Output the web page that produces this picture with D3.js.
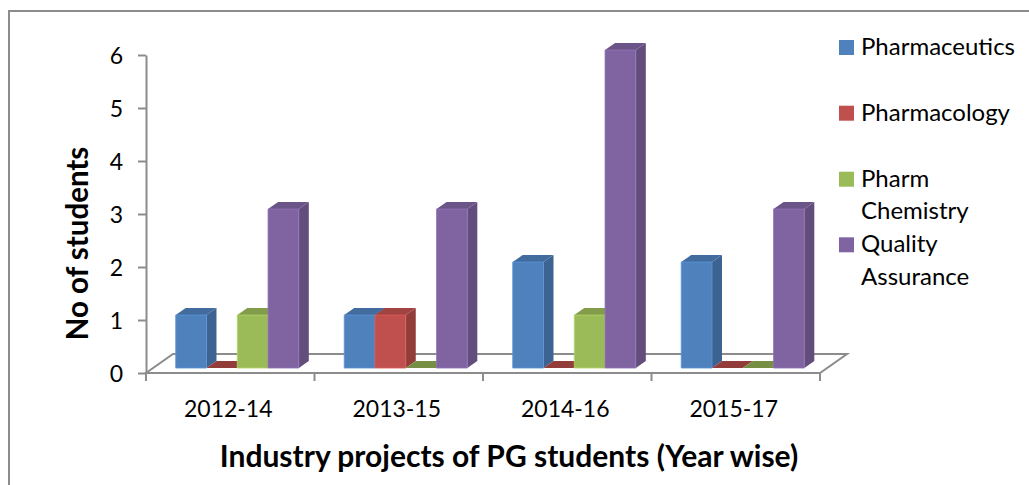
<!DOCTYPE html>
<html>
<head>
<script src="https://cdn.jsdelivr.net/npm/d3@7"></script>
<style>
  body { margin: 0; background: #fff; }
  svg { display: block; font-family: Lato, "Open Sans", sans-serif; }
</style>
</head>
<body>
<svg id="chart" width="1029" height="485"></svg>
<script>
// chart data
var categories = ["2012-14", "2013-15", "2014-16", "2015-17"];
var seriesNames = ["Pharmaceutics", "Pharmacology", "Pharm Chemistry", "Quality Assurance"];
var pharmaceutics = [1, 1, 2, 2];
var pharmacology = [0, 1, 0, 0];
var pharmChemistry = [1, 0, 1, 0];
var qualityAssurance = [3, 3, 6, 3];
var yTicks = [0, 1, 2, 3, 4, 5, 6];
var colors = ["#4f81bd", "#c0504d", "#9bbb59", "#8064a2"];

var values = [pharmaceutics, pharmacology, pharmChemistry, qualityAssurance];

var svg = d3.select("#chart");
var grey = "#8c8c8c";

// outer border (only top/left visible in the frame)
svg.append("rect")
    .attr("x", 9).attr("y", 11)
    .attr("width", 1100).attr("height", 600)
    .attr("fill", "none")
    .attr("stroke", grey)
    .attr("stroke-width", 2);

var plotLeft = 146, plotRight = 820, plotBottom = 373, plotTop = 55;
var depth = [27, -19];   // floor depth offset
var barFront = 0.26, barBack = 0.63;

var x = d3.scaleBand().domain(categories).range([plotLeft, plotRight]);
var xs = d3.scaleBand().domain(seriesNames)
    .range([22.7, x.bandwidth() - 22.7]);
var y = d3.scaleLinear().domain([0, 6]).range([plotBottom, plotTop]);

// floor
var floor = [[plotLeft, plotBottom], [plotRight, plotBottom],
             [plotRight + depth[0], plotBottom + depth[1]],
             [plotLeft + depth[0], plotBottom + depth[1]]];
svg.append("path")
    .attr("d", d3.line()(floor) + "Z")
    .attr("fill", "none")
    .attr("stroke", grey)
    .attr("stroke-width", 2);

// y axis
var yAxis = d3.axisLeft(y).tickValues(yTicks).tickFormat(d3.format("d"))
    .tickSize(8).tickSizeOuter(0).tickPadding(15);
var gy = svg.append("g").attr("transform", "translate(" + plotLeft + ",0)").call(yAxis);
gy.select(".domain").attr("stroke", grey).attr("stroke-width", 2);
gy.selectAll(".tick line").attr("stroke", grey).attr("stroke-width", 2);
gy.selectAll(".tick text")
    .attr("font-size", 23)
    .attr("font-family", "Lato, sans-serif")
    .attr("fill", "#000")
    .attr("dy", "0.36em");

// x axis: ticks at band edges, labels centered
var gx = svg.append("g");
var edges = categories.map(function(c) { return x(c); }).concat([plotRight]);
gx.selectAll("line").data(edges).enter().append("line")
    .attr("x1", function(d) { return d; }).attr("x2", function(d) { return d; })
    .attr("y1", plotBottom).attr("y2", plotBottom + 8)
    .attr("stroke", grey).attr("stroke-width", 2);
gx.selectAll("text").data(categories).enter().append("text")
    .attr("x", function(d) { return x(d) + x.bandwidth() / 2 - 2; })
    .attr("y", 417)
    .attr("text-anchor", "middle")
    .attr("font-size", 23)
    .text(function(d) { return d; });

// 3d bars
function pt(px, py, t) { return [px + depth[0] * t, py + depth[1] * t]; }

var bars = [];
categories.forEach(function(c, ci) {
    seriesNames.forEach(function(s, si) {
        bars.push({ cat: c, series: s, value: values[si][ci], color: colors[si] });
    });
});

var gb = svg.append("g");
bars.forEach(function(b) {
    var x0 = x(b.cat) + xs(b.series), x1 = x0 + xs.bandwidth();
    var y0 = y(0), y1 = y(b.value);
    var c = d3.color(b.color);
    var g = gb.append("g");
    var line = d3.line();
    // side face
    if (b.value > 0) {
        g.append("path")
            .attr("d", line([pt(x1, y0, barFront), pt(x1, y0, barBack), pt(x1, y1, barBack), pt(x1, y1, barFront)]) + "Z")
            .attr("fill", c.darker(0.75));
    }
    // top face
    g.append("path")
        .attr("d", line([pt(x0, y1, barFront), pt(x1, y1, barFront), pt(x1, y1, barBack), pt(x0, y1, barBack)]) + "Z")
        .attr("fill", c.darker(b.value > 0 ? 0.5 : 0.75));
    // front face
    if (b.value > 0) {
        g.append("path")
            .attr("d", line([pt(x0, y0, barFront), pt(x1, y0, barFront), pt(x1, y1, barFront), pt(x0, y1, barFront)]) + "Z")
            .attr("fill", c)
            .attr("stroke", c.brighter(0.4))
            .attr("stroke-width", 0.8);
    }
});

// axis titles
svg.append("text")
    .attr("x", 509).attr("y", 467)
    .attr("text-anchor", "middle")
    .attr("font-size", 30)
    .attr("font-weight", "bold")
    .text("Industry projects of PG students (Year wise)");

svg.append("text")
    .attr("transform", "translate(88,243.5) rotate(-90)")
    .attr("text-anchor", "middle")
    .attr("font-size", 29.5)
    .attr("font-weight", "bold")
    .text("No of students");

// legend
var legendLines = [["Pharmaceutics"], ["Pharmacology"], ["Pharm", "Chemistry"], ["Quality", "Assurance"]];
var legendBase = [55, 120.7, 186.7, 252.3];
var lg = svg.append("g");
legendLines.forEach(function(lines, i) {
    lg.append("rect")
        .attr("x", 839).attr("y", legendBase[i] - 15)
        .attr("width", 15).attr("height", 15)
        .attr("fill", colors[i]);
    var t = lg.append("text")
        .attr("x", 861).attr("y", legendBase[i])
        .attr("font-size", 24);
    lines.forEach(function(l, j) {
        t.append("tspan").attr("x", 861).attr("dy", j === 0 ? 0 : 32.3).text(l);
    });
});
</script>
</body>
</html>
